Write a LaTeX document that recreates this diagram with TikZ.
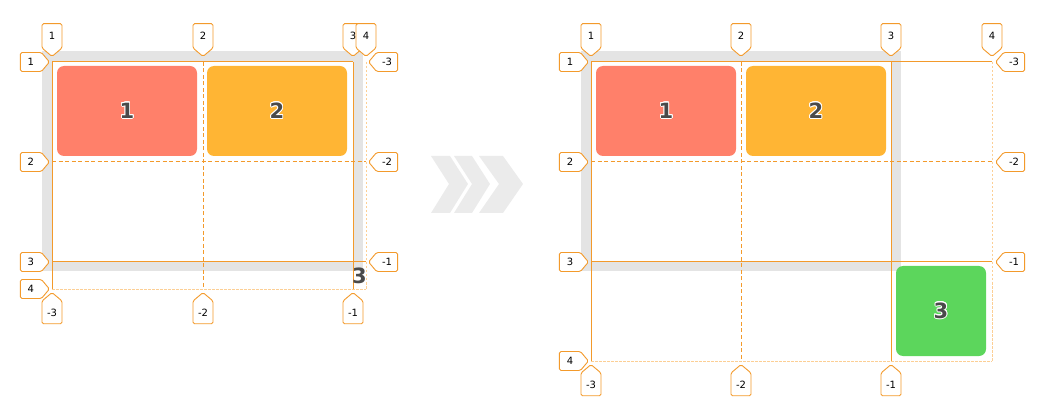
\documentclass[tikz,border=0pt]{standalone}
\usepackage{fontspec}
\setmainfont{DejaVu Sans}
\usepackage{contour}
\contourlength{0.8pt}
\usetikzlibrary{shapes.symbols}

\definecolor{lineorange}{HTML}{F39A2B}
\definecolor{lightorange}{HTML}{FCCF95}
\definecolor{boxgray}{HTML}{E4E4E4}
\definecolor{chevgray}{HTML}{EBEBEB}
\definecolor{salmon}{HTML}{FF806A}
\definecolor{amber}{HTML}{FFB534}
\definecolor{leaf}{HTML}{5CD65C}
\definecolor{numgray}{HTML}{4A4A4A}

\newcommand{\bignum}{\fontsize{21}{21}\selectfont\bfseries}
\newcommand{\tagfont}{\fontsize{10}{10}\selectfont}

\tikzset{
  container/.style={draw=boxgray, line width=10pt},
  item/.style={rounded corners=7pt, minimum width=140pt, minimum height=90pt,
    inner sep=0pt, font=\bignum, text=numgray},
  gridsolid/.style={draw=lineorange, line width=1pt},
  griddash/.style={draw=lineorange, line width=1pt, dash pattern=on 4pt off 2.5pt},
  gridlight/.style={draw=lightorange, line width=0.8pt, dash pattern=on 2.5pt off 1.5pt},
  tagbase/.style={signal, draw=lineorange, fill=white, line width=0.9pt,
    rounded corners=1.5pt, inner sep=0pt, font=\tagfont, text=black,
    signal pointer angle=100},
  tagdown/.style={tagbase, signal to=south, anchor=south, minimum width=20pt, minimum height=27pt},
  tagup/.style={tagbase, signal to=north, anchor=north, minimum width=20pt, minimum height=27pt},
  tagright/.style={tagbase, signal to=east, anchor=east, minimum width=29pt, minimum height=19pt},
  tagleft/.style={tagbase, signal to=west, anchor=west, minimum width=29pt, minimum height=19pt}
}

\begin{document}
\begin{tikzpicture}[x=1pt, y=-1pt]
    \useasboundingbox (0,0) rectangle (1042,414);

    % Left: containers and items
    \draw[container] (47,56) rectangle (358,266);
    \node[item, fill=salmon] (lone) at (127,111) {\contour{white}{1}};
    \node[item, fill=amber] (ltwo) at (277,111) {\contour{white}{2}};

    % Left grid lines
    \draw[gridlight] (366,62) -- (366,289);
    \draw[gridlight] (52,289) -- (366,289);
    \draw[griddash] (203,62) -- (203,289);
    \draw[griddash] (52,162) -- (366,162);
    \draw[gridsolid] (52,62) -- (52,289);
    \draw[gridsolid] (353,62) -- (353,289);
    \draw[gridsolid] (52,62) -- (353,62);
    \draw[gridsolid] (52,262) -- (366,262);

    \node[font=\bignum, text=numgray] (lthree) at (359.5,276) {3};

    % Left line tags
    \foreach \x/\t [count=\i] in {52/1,203/2,353/3,366/4}
      \node[tagdown] (ltop\i) at (\x,57) {\t};
    \foreach \y/\t [count=\i] in {62/1,162/2,262/3,289/4}
      \node[tagright] (lleft\i) at (50,\y) {\t};
    \foreach \y/\t [count=\i] in {62/-3,162/-2,262/-1}
      \node[tagleft] (lright\i) at (368,\y) {\t};
    \foreach \x/\t [count=\i] in {52/-3,203/-2,353/-1}
      \node[tagup] (lbot\i) at (\x,292) {\t};

    % Chevrons
    \fill[chevgray] (431,156) -- (450,156) -- (468,184) -- (450,213)
      -- (431,213) -- (449,184) -- cycle;
    \fill[chevgray] (454,156) -- (472,156) -- (490,184) -- (472,213)
      -- (454,213) -- (472,184) -- cycle;
    \fill[chevgray] (479,156) -- (503,156) -- (523,184) -- (503,213)
      -- (479,213) -- (499,184) -- cycle;

    % Right: containers and items
    \draw[container] (586,56) rectangle (896,266);
    \node[item, fill=salmon] (rone) at (666,111) {\contour{white}{1}};
    \node[item, fill=amber] (rtwo) at (816,111) {\contour{white}{2}};
    \node[item, fill=leaf, minimum width=90pt] (rthree) at (941,311) {\contour{white}{3}};

    % Right grid lines
    \draw[gridlight] (992,62) -- (992,361);
    \draw[gridlight] (591,361) -- (992,361);
    \draw[griddash] (741,62) -- (741,361);
    \draw[griddash] (591,162) -- (992,162);
    \draw[gridsolid] (591,62) -- (591,361);
    \draw[gridsolid] (891,62) -- (891,361);
    \draw[gridsolid] (591,62) -- (992,62);
    \draw[gridsolid] (591,262) -- (992,262);

    % Right line tags
    \foreach \x/\t [count=\i] in {591/1,741/2,891/3,992/4}
      \node[tagdown] (rtop\i) at (\x,57) {\t};
    \foreach \y/\t [count=\i] in {62/1,162/2,262/3,361/4}
      \node[tagright] (rleft\i) at (589,\y) {\t};
    \foreach \y/\t [count=\i] in {62/-3,162/-2,262/-1}
      \node[tagleft] (rright\i) at (995,\y) {\t};
    \foreach \x/\t [count=\i] in {591/-3,741/-2,891/-1}
      \node[tagup] (rbot\i) at (\x,364) {\t};
\end{tikzpicture}
\end{document}
